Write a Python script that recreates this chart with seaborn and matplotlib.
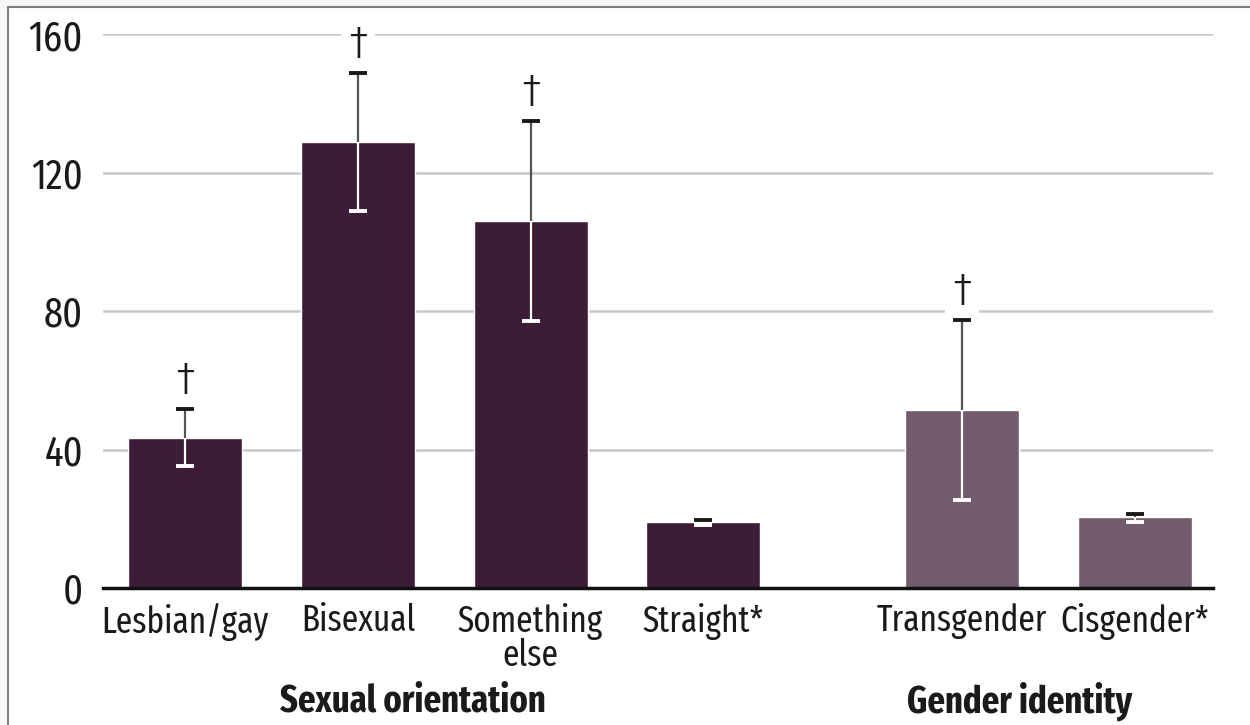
import numpy as np
import matplotlib
matplotlib.use("Agg")
import matplotlib.pyplot as plt
from matplotlib.patches import Rectangle
import seaborn as sns

sns.set_theme(style="white")
plt.rcParams['font.family'] = ['Fira Sans Extra Condensed', 'PT Sans Narrow', 'DejaVu Sans']

# data
labels = ["Lesbian/gay", "Bisexual", "Something\nelse", "Straight*", "Transgender", "Cisgender*"]
positions = [0, 1, 2, 3, 4.5, 5.5]
groups = ["Sexual orientation"] * 4 + ["Gender identity"] * 2
rates = [43.3, 128.8, 106.0, 19.1, 51.4, 20.5]
ci_low = [35.2, 108.9, 77.1, 18.2, 25.4, 19.1]
ci_high = [51.7, 148.7, 134.9, 19.6, 77.4, 21.4]
dagger = [True, True, True, False, True, False]

group_names = ["Sexual orientation", "Gender identity"]
group_centers = [1.32, 4.83]
yticks = [0, 40, 80, 120, 160]

palette = {"Sexual orientation": "#3d1c37", "Gender identity": "#725b6c"}

fig = plt.figure(figsize=(12.5, 7.25), dpi=100)
fig.patch.set_facecolor("#f7f7f7")
fig.add_artist(Rectangle((8 / 1250, -0.05), 1.2, 1.05 - 7 / 725, transform=fig.transFigure,
                         facecolor="white", edgecolor="#7f7f7f", lw=1.5, zorder=0))
ax = fig.add_axes([0.082, 0.189, 0.888, 0.764])
ax.set_facecolor("none")

sns.barplot(x=positions, y=rates, hue=groups, palette=palette, native_scale=True,
            width=0.66, dodge=False, legend=False, saturation=1, ax=ax, zorder=2,
            errorbar=None)

cap = 0.052
for x, v, lo, hi, d in zip(positions, rates, ci_low, ci_high, dagger):
    # part above the bar top: dark
    ax.vlines(x, v, hi, color="#555555", lw=1.6, zorder=4)
    ax.hlines(hi, x - cap, x + cap, color="#1a1a1a", lw=2.8, zorder=4)
    # part inside the bar: white
    ax.vlines(x, lo, v, color="white", lw=1.6, zorder=4)
    ax.hlines(lo, x - cap, x + cap, color="white", lw=2.8, zorder=4)
    if d:
        ax.annotate("†", (x, hi), xytext=(0, 20), textcoords="offset points",
                    ha="center", va="center", fontsize=34, fontweight=300,
                    color="#1a1a1a", zorder=3, annotation_clip=False,
                    bbox=dict(boxstyle="square,pad=0.15", fc="white", ec="none"))

ax.set_xlim(-0.48, 5.95)
ax.set_ylim(0, 160)
ax.set_yticks(yticks)
ax.set_yticklabels([str(t) for t in yticks], fontsize=30, color="#1a1a1a")
ax.set_xticks(positions)
ax.set_xticklabels(labels, fontsize=26, color="#1a1a1a", linespacing=0.9)
ax.tick_params(axis="both", length=0, pad=11)
ax.tick_params(axis="y", pad=14)

ax.yaxis.grid(True, color="#c8c8c8", lw=1.8, zorder=0)
ax.set_axisbelow(True)
for s in ["top", "right", "left"]:
    ax.spines[s].set_visible(False)
ax.spines["bottom"].set_color("#111111")
ax.spines["bottom"].set_linewidth(2.5)
ax.spines["bottom"].set_zorder(5)

for name, cx in zip(group_names, group_centers):
    ax.text(cx, -0.205, name, transform=ax.get_xaxis_transform(), ha="center", va="center",
            fontsize=27, fontweight="bold", color="#1a1a1a")

fig.savefig("out.png", dpi=100, facecolor=fig.get_facecolor())
